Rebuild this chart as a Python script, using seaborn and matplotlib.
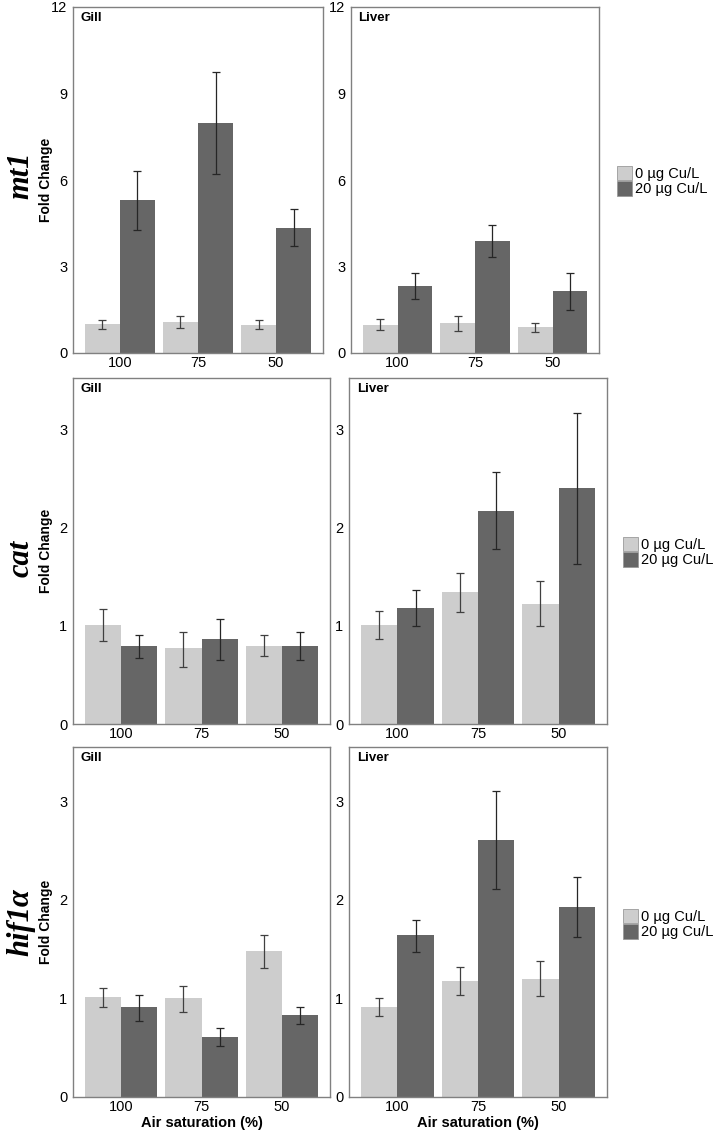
import numpy as np
import pandas as pd
import matplotlib
matplotlib.use("Agg")
import matplotlib.pyplot as plt
from matplotlib.patches import Patch
import seaborn as sns

# ---------------- data ----------------
saturation = ["100", "75", "50"]
copper = ["0 µg Cu/L", "20 µg Cu/L"]
genes = ["mt1", "cat", "hif1α"]
tissues = ["Gill", "Liver"]

# mean, lower, upper for each (gene, tissue, copper) over saturation 100, 75, 50
mt1_gill_0 = [0.99, 1.09, 0.96]
mt1_gill_0_lo = [0.84, 0.87, 0.84]
mt1_gill_0_hi = [1.16, 1.29, 1.13]
mt1_gill_20 = [5.29, 7.98, 4.34]
mt1_gill_20_lo = [4.28, 6.22, 3.70]
mt1_gill_20_hi = [6.31, 9.73, 4.99]

mt1_liver_0 = [0.98, 1.04, 0.90]
mt1_liver_0_lo = [0.79, 0.76, 0.73]
mt1_liver_0_hi = [1.18, 1.30, 1.05]
mt1_liver_20 = [2.33, 3.89, 2.14]
mt1_liver_20_lo = [1.87, 3.34, 1.48]
mt1_liver_20_hi = [2.79, 4.44, 2.79]

cat_gill_0 = [1.01, 0.77, 0.79]
cat_gill_0_lo = [0.84, 0.58, 0.69]
cat_gill_0_hi = [1.17, 0.94, 0.91]
cat_gill_20 = [0.79, 0.86, 0.79]
cat_gill_20_lo = [0.67, 0.65, 0.65]
cat_gill_20_hi = [0.91, 1.07, 0.94]

cat_liver_0 = [1.01, 1.34, 1.22]
cat_liver_0_lo = [0.86, 1.14, 1.00]
cat_liver_0_hi = [1.15, 1.54, 1.45]
cat_liver_20 = [1.18, 2.17, 2.40]
cat_liver_20_lo = [1.00, 1.78, 1.63]
cat_liver_20_hi = [1.36, 2.56, 3.16]

hif_gill_0 = [1.01, 1.00, 1.48]
hif_gill_0_lo = [0.91, 0.86, 1.31]
hif_gill_0_hi = [1.11, 1.13, 1.64]
hif_gill_20 = [0.91, 0.61, 0.83]
hif_gill_20_lo = [0.77, 0.52, 0.74]
hif_gill_20_hi = [1.03, 0.70, 0.91]

hif_liver_0 = [0.91, 1.18, 1.20]
hif_liver_0_lo = [0.82, 1.03, 1.02]
hif_liver_0_hi = [1.00, 1.32, 1.38]
hif_liver_20 = [1.64, 2.61, 1.93]
hif_liver_20_lo = [1.47, 2.11, 1.62]
hif_liver_20_hi = [1.80, 3.10, 2.23]

series = {
    ("mt1", "Gill"): [(mt1_gill_0, mt1_gill_0_lo, mt1_gill_0_hi), (mt1_gill_20, mt1_gill_20_lo, mt1_gill_20_hi)],
    ("mt1", "Liver"): [(mt1_liver_0, mt1_liver_0_lo, mt1_liver_0_hi), (mt1_liver_20, mt1_liver_20_lo, mt1_liver_20_hi)],
    ("cat", "Gill"): [(cat_gill_0, cat_gill_0_lo, cat_gill_0_hi), (cat_gill_20, cat_gill_20_lo, cat_gill_20_hi)],
    ("cat", "Liver"): [(cat_liver_0, cat_liver_0_lo, cat_liver_0_hi), (cat_liver_20, cat_liver_20_lo, cat_liver_20_hi)],
    ("hif1α", "Gill"): [(hif_gill_0, hif_gill_0_lo, hif_gill_0_hi), (hif_gill_20, hif_gill_20_lo, hif_gill_20_hi)],
    ("hif1α", "Liver"): [(hif_liver_0, hif_liver_0_lo, hif_liver_0_hi), (hif_liver_20, hif_liver_20_lo, hif_liver_20_hi)],
}

rows = []
for (g, t), lst in series.items():
    for c, (m, lo, hi) in zip(copper, lst):
        for s, mv, l, h in zip(saturation, m, lo, hi):
            rows.append(dict(gene=g, tissue=t, cu=c, sat=s, val=mv, lo=l, hi=h))
df = pd.DataFrame(rows)

y_limits = {"mt1": 12, "cat": 3.52, "hif1α": 3.55}
y_ticks = {"mt1": [0, 3, 6, 9, 12], "cat": [0, 1, 2, 3], "hif1α": [0, 1, 2, 3]}

# ---------------- style ----------------
sns.set_theme(style="white")
plt.rcParams["font.family"] = ["Liberation Sans", "DejaVu Sans"]
plt.rcParams["text.color"] = "black"
plt.rcParams["axes.labelcolor"] = "black"

LIGHT = "#cdcdcd"
DARK = "#666666"
SPINE = "#808080"

W, H = 717, 1137
fig = plt.figure(figsize=(W / 100, H / 100), dpi=100)

def px_axes(x0, x1, y0, y1):
    return fig.add_axes([x0 / W, 1 - y1 / H, (x1 - x0) / W, (y1 - y0) / H])

layout = {
    ("mt1", "Gill"): (73, 323, 7, 353),
    ("mt1", "Liver"): (351, 599, 7, 353),
    ("cat", "Gill"): (73, 330, 378, 724),
    ("cat", "Liver"): (349, 607, 378, 724),
    ("hif1α", "Gill"): (73, 330, 747, 1097),
    ("hif1α", "Liver"): (349, 607, 747, 1097),
}
gene_label_y = {"mt1": 175, "cat": 558, "hif1α": 922}
legend_top = {"mt1": 166, "cat": 537, "hif1α": 909}
legend_x = {"mt1": 617, "cat": 623, "hif1α": 623}

for gi, g in enumerate(genes):
    for t in tissues:
        ax = px_axes(*layout[(g, t)])
        sub = df[(df.gene == g) & (df.tissue == t)]
        sns.barplot(data=sub, x="sat", y="val", hue="cu", order=saturation,
                    hue_order=copper, palette=[LIGHT, DARK], width=0.9, gap=0,
                    errorbar=None, saturation=1, legend=False, linewidth=0, ax=ax)
        bar_conts = list(ax.containers)
        for ci, cont in enumerate(bar_conts):
            for bar in cont.patches:
                xc = bar.get_x() + bar.get_width() / 2
                k = int(round(xc))
                r = sub[(sub.sat == saturation[k]) & (sub.cu == copper[ci])].iloc[0]
                ax.errorbar(xc, r.val, yerr=[[r.val - r.lo], [r.hi - r.val]],
                            fmt="none", ecolor="#262626" if ci else "#404040",
                            elinewidth=0.9, capsize=3.2, capthick=0.9, zorder=5)
        ax.set_xlim(-0.6, 2.6)
        ax.set_ylim(0, y_limits[g])
        ax.set_yticks(y_ticks[g])
        ax.tick_params(axis="both", length=0, labelsize=10.5, colors="black")
        ax.tick_params(axis="y", pad=4)
        ax.tick_params(axis="x", pad=2.5)
        for sp in ax.spines.values():
            sp.set_visible(True)
            sp.set_color(SPINE)
            sp.set_linewidth(1.0)
        ax.text(0.03, 0.985, t, transform=ax.transAxes, ha="left", va="top",
                fontsize=9.5, fontweight="bold", color="black")
        if g == "hif1α":
            ax.set_xlabel("Air saturation (%)", fontsize=10.5, fontweight="bold", labelpad=1)
        else:
            ax.set_xlabel("")
        if t == "Gill":
            ax.set_ylabel("Fold Change", fontsize=10, fontweight="bold")
            ax.yaxis.set_label_coords(-0.08 * 250 / (layout[(g, t)][1] - layout[(g, t)][0]), 0.5)
        else:
            ax.set_ylabel("")
    fig.text(21 / W, 1 - gene_label_y[g] / H, g, rotation=90, ha="center", va="center",
             fontsize=22, fontweight="bold", fontstyle="italic",
             family=["Liberation Serif", "DejaVu Serif"])
    handles = [Patch(facecolor=LIGHT, edgecolor="#9a9a9a", linewidth=0.6),
               Patch(facecolor=DARK, edgecolor="#9a9a9a", linewidth=0.6)]
    fig.legend(handles, copper, loc="upper left",
               bbox_to_anchor=(legend_x[g] / W, 1 - legend_top[g] / H),
               frameon=False, fontsize=10.5, handlelength=1.05, handleheight=1.15,
               handletextpad=0.2, labelspacing=0.0, borderpad=0, borderaxespad=0)

fig.savefig("out.png", dpi=100)
